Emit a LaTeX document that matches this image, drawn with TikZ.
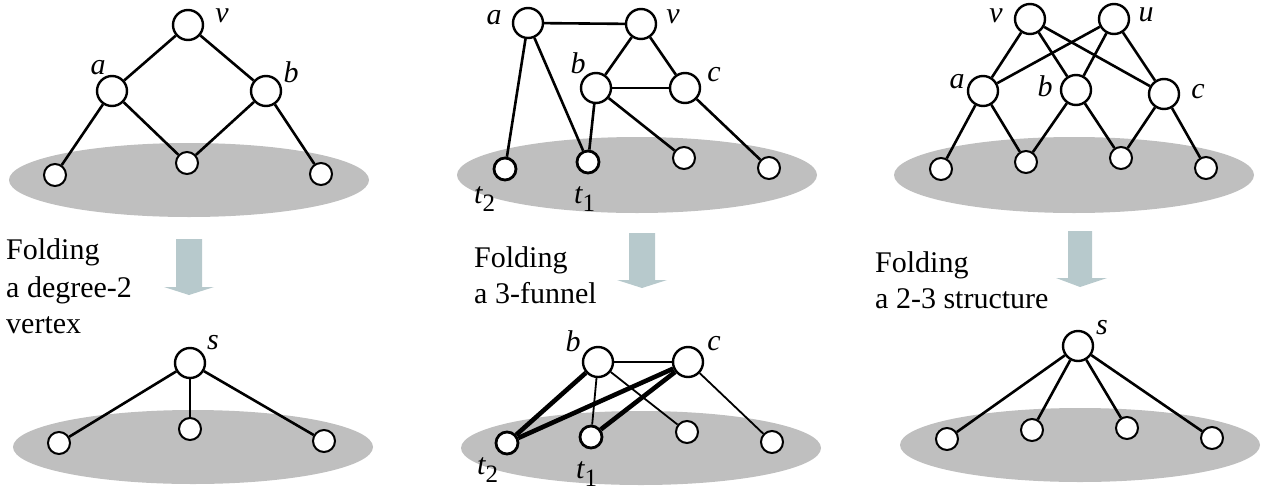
\documentclass[tikz,border=0pt]{standalone}
\usepackage{fontspec}
\setmainfont{Liberation Serif}
\definecolor{basegray}{HTML}{BFBFBF}
\definecolor{arrowc}{HTML}{B7C9CC}
\begin{document}
\begin{tikzpicture}[x=1pt,y=-1pt,
  big/.style={circle,draw,fill=white,line width=2.4pt,minimum size=30pt,inner sep=0pt},
  small/.style={circle,draw,fill=white,line width=2pt,minimum size=22pt,inner sep=0pt},
  smallb/.style={small,line width=2.8pt},
  edge/.style={line width=2.6pt},
  thin/.style={line width=1.8pt},
  thick/.style={line width=4.6pt},
  lbl/.style={font=\fontsize{30}{30}\selectfont\itshape,inner sep=0pt},
  tlbl/.style={font=\fontsize{30}{30}\selectfont,inner sep=0pt,anchor=base west},
  txt/.style={font=\fontsize{30}{30}\selectfont,anchor=base west,inner sep=0pt},
  base/.style={fill=basegray},
  foldarrow/.style={fill=arrowc}]
\useasboundingbox (0,0) rectangle (1268,490);
\newcommand{\tsub}[2]{{\itshape #1}\raisebox{-0.28em}{\fontsize{25}{25}\selectfont #2}}

% ---------- Panel 1 top ----------
\fill[base] (189,180) ellipse [x radius=180pt, y radius=37pt];
\node[big] (v1) at (188,25) {};
\node[big] (a1) at (112,91) {};
\node[big] (b1) at (266,91) {};
\node[small] (p1a) at (55,175) {};
\node[small] (p1b) at (187,163) {};
\node[small] (p1c) at (321,174) {};
\draw[edge] (v1) -- (a1);
\draw[edge] (v1) -- (b1);
\draw[edge] (a1) -- (p1a);
\draw[edge] (a1) -- (p1b);
\draw[edge] (b1) -- (p1b);
\draw[edge] (b1) -- (p1c);
\node[lbl] (lv1) at (222,16) {v};
\node[lbl] (la1) at (98,68) {a};
\node[lbl] (lb1) at (291,72) {b};

% arrow 1 + text
\fill[foldarrow] (176,239) -- (202,239) -- (202,287) -- (214,287) -- (189,295) -- (164,287) -- (176,287) -- cycle;
\node[txt] (f1a) at (6,259) {Folding};
\node[txt] (f1b) at (6,297) {a degree-2};
\node[txt] (f1c) at (6,333) {vertex};

% ---------- Panel 1 bottom ----------
\fill[base] (193,447) ellipse [x radius=180pt, y radius=37pt];
\node[big] (s1) at (190,363) {};
\node[small] (q1a) at (59,443) {};
\node[small] (q1b) at (190,429) {};
\node[small] (q1c) at (324,441) {};
\draw[edge] (s1) -- (q1a);
\draw[edge] (s1) -- (q1b);
\draw[edge] (s1) -- (q1c);
\node[lbl] (ls1) at (213,343) {s};

% ---------- Panel 2 top ----------
\fill[base] (637,175) ellipse [x radius=180pt, y radius=38pt];
\node[big] (a2) at (528,23) {};
\node[big] (v2) at (641,24) {};
\node[big] (b2) at (596,88) {};
\node[big] (c2) at (685,88) {};
\node[smallb] (t22) at (505,169) {};
\node[smallb] (t12) at (588,162) {};
\node[small] (p2c) at (684,158) {};
\node[small] (p2d) at (769,168) {};
\draw[edge] (a2) -- (v2);
\draw[edge] (a2) -- (t22);
\draw[edge] (a2) -- (t12);
\draw[edge] (v2) -- (b2);
\draw[edge] (v2) -- (c2);
\draw[edge] (b2) -- (c2);
\draw[edge] (b2) -- (t12);
\draw[edge] (b2) -- (p2c);
\draw[edge] (c2) -- (p2d);
\node[lbl] (la2) at (494,18) {a};
\node[lbl] (lv2) at (673,17) {v};
\node[lbl] (lb2) at (578,63) {b};
\node[lbl] (lc2) at (714,75) {c};
\node[tlbl] (lt22) at (474,203) {\tsub{t}{2}};
\node[tlbl] (lt12) at (574,203) {\tsub{t}{1}};

% arrow 2 + text
\fill[foldarrow] (629,233) -- (655,233) -- (655,280) -- (667,280) -- (642,288) -- (617,280) -- (629,280) -- cycle;
\node[txt] (f2a) at (474,267) {Folding};
\node[txt] (f2b) at (474,303) {a 3-funnel};

% ---------- Panel 2 bottom ----------
\fill[base] (641,448) ellipse [x radius=180pt, y radius=37pt];
\node[big] (b3) at (598,362) {};
\node[big] (c3) at (688,362) {};
\node[smallb] (t23) at (507,443) {};
\node[smallb] (t13) at (591,437) {};
\node[small] (q2c) at (687,432) {};
\node[small] (q2d) at (772,442) {};
\draw[thin] (b3) -- (c3);
\draw[thin] (b3) -- (t13);
\draw[thin] (b3) -- (q2c);
\draw[thin] (c3) -- (q2d);
\draw[thick] (b3) -- (t23);
\draw[thick] (c3) -- (t23);
\draw[thick] (c3) -- (t13);
\node[lbl] (lb3) at (573,341) {b};
\node[lbl] (lc3) at (714,344) {c};
\node[tlbl] (lt23) at (477,474) {\tsub{t}{2}};
\node[tlbl] (lt13) at (576,478) {\tsub{t}{1}};

% ---------- Panel 3 top ----------
\fill[base] (1074,175) ellipse [x radius=180pt, y radius=38pt];
\node[big] (v4) at (1030,19) {};
\node[big] (u4) at (1114,19) {};
\node[big] (a4) at (983,91) {};
\node[big] (b4) at (1076,90) {};
\node[big] (c4) at (1164,94) {};
\node[small] (p4a) at (941,169) {};
\node[small] (p4b) at (1026,162) {};
\node[small] (p4c) at (1121,158) {};
\node[small] (p4d) at (1206,168) {};
\draw[edge] (v4) -- (a4);
\draw[edge] (v4) -- (b4);
\draw[edge] (v4) -- (c4);
\draw[edge] (u4) -- (a4);
\draw[edge] (u4) -- (b4);
\draw[edge] (u4) -- (c4);
\draw[edge] (a4) -- (p4a);
\draw[edge] (a4) -- (p4b);
\draw[edge] (b4) -- (p4b);
\draw[edge] (b4) -- (p4c);
\draw[edge] (c4) -- (p4c);
\draw[edge] (c4) -- (p4d);
\node[lbl] (lv4) at (996,16) {v};
\node[lbl] (lu4) at (1146,15) {u};
\node[lbl] (la4) at (957,82) {a};
\node[lbl] (lb4) at (1045,86) {b};
\node[lbl] (lc4) at (1198,92) {c};

% arrow 3 + text
\fill[foldarrow] (1068,231) -- (1092,231) -- (1092,278) -- (1107,278) -- (1080,287) -- (1056,278) -- (1068,278) -- cycle;
\node[txt] (f3a) at (875,272) {Folding};
\node[txt] (f3b) at (875,308) {a 2-3 structure};

% ---------- Panel 3 bottom ----------
\fill[base] (1080,445) ellipse [x radius=180pt, y radius=37pt];
\node[big] (s5) at (1078,346) {};
\node[small] (q5a) at (947,439) {};
\node[small] (q5b) at (1032,430) {};
\node[small] (q5c) at (1127,428) {};
\node[small] (q5d) at (1212,438) {};
\draw[edge] (s5) -- (q5a);
\draw[edge] (s5) -- (q5b);
\draw[edge] (s5) -- (q5c);
\draw[edge] (s5) -- (q5d);
\node[lbl] (ls5) at (1102,328) {s};
\end{tikzpicture}
\end{document}
